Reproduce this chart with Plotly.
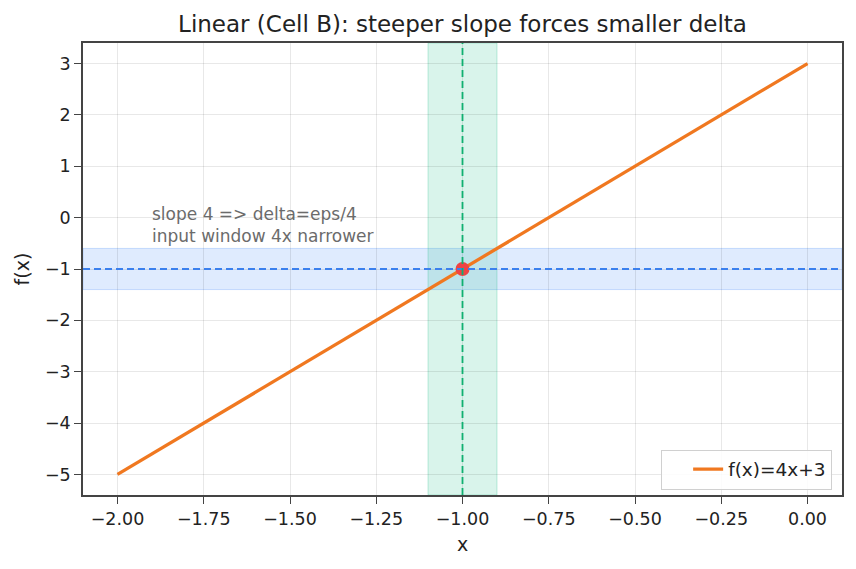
import plotly.graph_objects as go

# Data
line_x = [-2.0, 0.0]
line_y = [-5.0, 3.0]
point_x = [-1.0]
point_y = [-1.0]
x0 = -1.0
delta = 0.1
L = -1.0
eps = 0.4
x_ticks = [-2.0, -1.75, -1.5, -1.25, -1.0, -0.75, -0.5, -0.25, 0.0]
y_ticks = [-5, -4, -3, -2, -1, 0, 1, 2, 3]
note_lines = ["slope 4 => delta=eps/4", "input window 4x narrower"]

ORANGE = "#f07820"
BLUE = "#3b80ee"
GREEN = "#10b070"
RED = "#ef4444"

fig = go.Figure()
fig.add_trace(go.Scatter(x=line_x, y=line_y, mode="lines", name="f(x)=4x+3",
                         line=dict(color=ORANGE, width=3.3)))
fig.add_trace(go.Scatter(x=point_x, y=point_y, mode="markers", showlegend=False,
                         marker=dict(color=RED, size=14)))

shapes = [
    dict(type="rect", xref="paper", yref="y", x0=0, x1=1, y0=L - eps, y1=L + eps,
         fillcolor="rgba(59,130,246,0.16)", line=dict(color="rgba(59,130,246,0.25)", width=1), layer="below"),
    dict(type="rect", xref="x", yref="paper", x0=x0 - delta, x1=x0 + delta, y0=0, y1=1,
         fillcolor="rgba(16,185,129,0.16)", line=dict(color="rgba(16,185,129,0.25)", width=1), layer="below"),
    dict(type="line", xref="paper", yref="y", x0=0, x1=1, y0=L, y1=L,
         line=dict(color=BLUE, width=1.8, dash="7px,4px")),
    dict(type="line", xref="x", yref="paper", x0=x0, x1=x0, y0=0, y1=1,
         line=dict(color=GREEN, width=1.8, dash="7px,4px")),
]
fig.update_layout(shapes=shapes)

fig.add_annotation(x=-1.9, y=-0.5, xref="x", yref="y", text="<br>".join(note_lines),
                   showarrow=False, xanchor="left", yanchor="bottom", align="left",
                   xshift=-2, yshift=-5,
                   font=dict(size=17, color="#6b6b6b"))

axis_common = dict(showline=True, linecolor="#444", linewidth=1.5, mirror=True,
                   ticks="outside", ticklen=7, tickwidth=1.4, tickcolor="#444",
                   showgrid=True, gridcolor="rgba(0,0,0,0.09)", gridwidth=1,
                   zeroline=False, tickfont=dict(size=17.5, color="#222"))

fig.update_xaxes(range=[-2.1, 0.1], tickvals=x_ticks, tickformat=".2f",
                 title=dict(text="x", font=dict(size=19, color="#222"), standoff=10), **axis_common)
fig.update_yaxes(range=[-5.4, 3.4], tickvals=y_ticks,
                 title=dict(text="f(x)", font=dict(size=19, color="#222"), standoff=10), **axis_common)

fig.update_layout(
    width=856, height=569,
    margin=dict(l=83, r=14, t=43, b=74),
    paper_bgcolor="white", plot_bgcolor="white",
    font=dict(family="DejaVu Sans", color="#222"),
    title=dict(text="Linear (Cell B): steeper slope forces smaller delta",
               x=(83 + 842) / 2 / 856, xanchor="center", y=1 - 24 / 569, yanchor="middle",
               font=dict(size=23, color="#222")),
    legend=dict(x=0.987, y=0.012, xanchor="right", yanchor="bottom", indentation=26,
                bgcolor="rgba(255,255,255,0.85)", bordercolor="#d0d0d0", borderwidth=1,
                font=dict(size=18.5, color="#222")),
)

fig.write_html("out.html")
